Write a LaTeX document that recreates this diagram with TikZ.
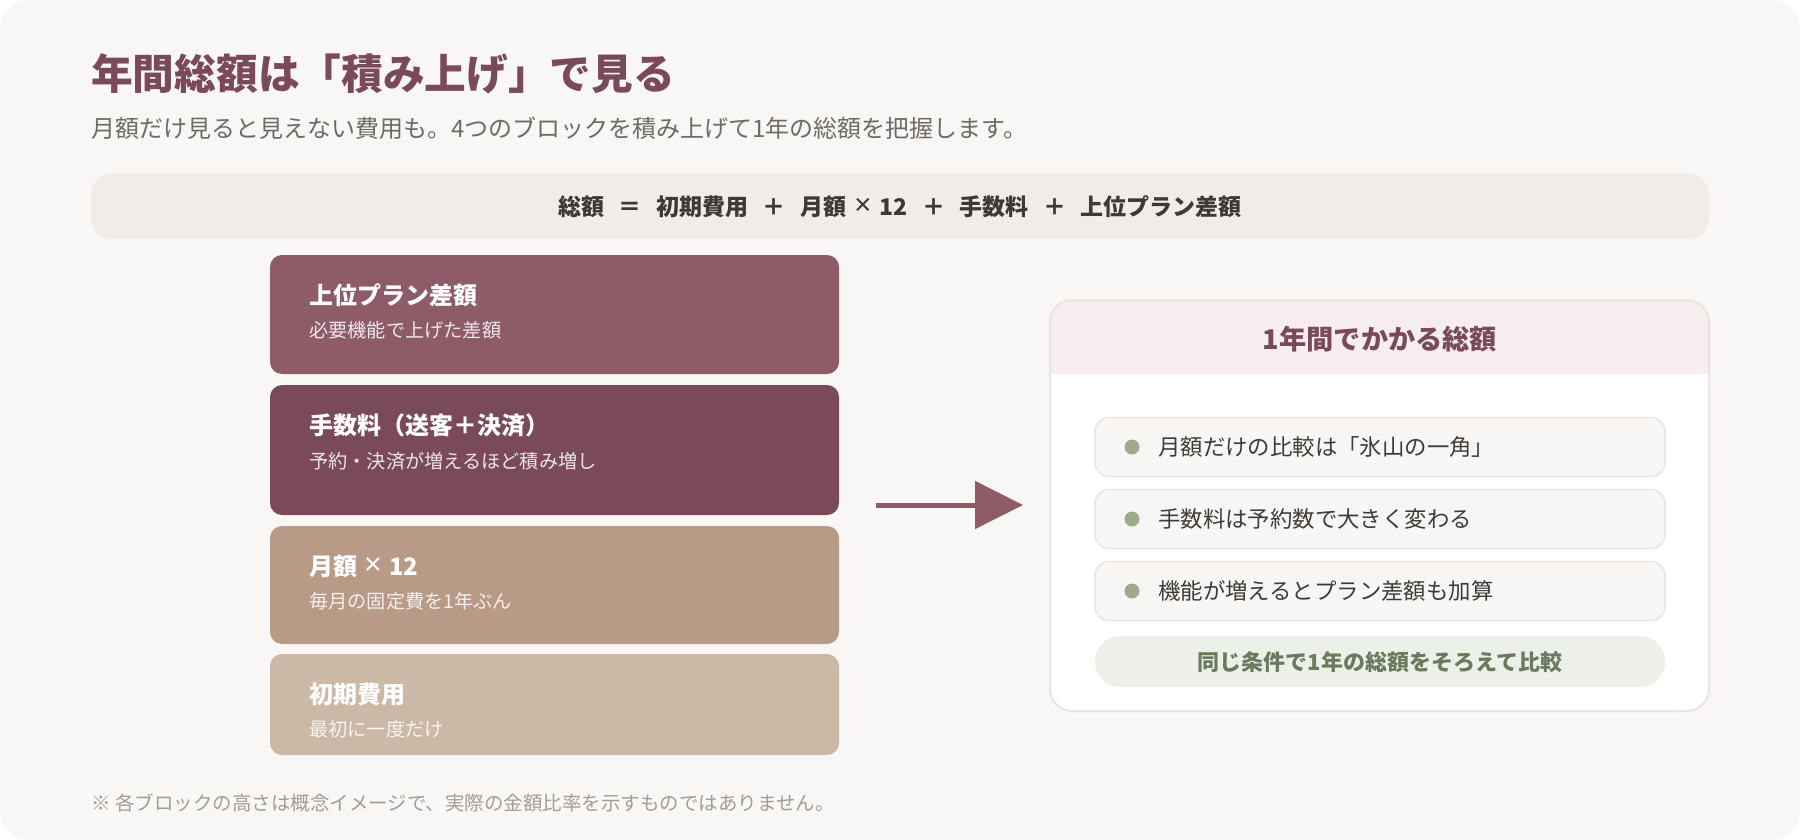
\documentclass[tikz,border=0pt]{standalone}
\usepackage{fontspec}
\setmainfont{Noto Sans CJK JP}
\newfontfamily\latinsans{Noto Sans}
\usetikzlibrary{arrows.meta}
\definecolor{cardbg}{HTML}{F8F7F5}
\definecolor{titlec}{HTML}{7B4A58}
\definecolor{subc}{HTML}{6E6A66}
\definecolor{formbg}{HTML}{F1ECE8}
\definecolor{formtx}{HTML}{3D3935}
\definecolor{bA}{HTML}{8E5B69}
\definecolor{bB}{HTML}{7B4A58}
\definecolor{bC}{HTML}{B89A86}
\definecolor{bD}{HTML}{CBB8A6}
\definecolor{cardline}{HTML}{EDE4DF}
\definecolor{hdrbg}{HTML}{F6EDEE}
\definecolor{itembg}{HTML}{F8F6F4}
\definecolor{itemline}{HTML}{ECE4DF}
\definecolor{dotc}{HTML}{9DAA8E}
\definecolor{itemtx}{HTML}{3E3B38}
\definecolor{pillbg}{HTML}{EDF0E9}
\definecolor{pilltx}{HTML}{6A7A5C}
\definecolor{notec}{HTML}{A39C96}
\newcommand{\opgap}[1]{\hspace{14.5pt}#1\hspace{14.5pt}}
\newcommand{\timesx}{{\latinsans\bfseries\fontsize{1.3em}{1em}\selectfont ×}}
\tikzset{
  blockbox/.style={rectangle, rounded corners=12pt, inner sep=0pt, minimum width=569pt},
  blktitle/.style={anchor=west, inner sep=0pt, text=white, font=\fontsize{24}{28}\selectfont\bfseries},
  blksub/.style={anchor=west, inner sep=0pt, text=white, text opacity=0.85, font=\fontsize{19.2}{23}\selectfont},
  itembox/.style={rectangle, rounded corners=14pt, draw=itemline, line width=1.5pt, fill=itembg, minimum width=570pt, minimum height=59pt, inner sep=0pt},
  itemtext/.style={anchor=west, inner sep=0pt, text=itemtx, font=\fontsize{22.4}{26}\selectfont},
  dotmark/.style={circle, fill=dotc, minimum size=15pt, inner sep=0pt},
}
\begin{document}
\begin{tikzpicture}[x=1pt,y=-1pt]
\useasboundingbox (0,0) rectangle (1800,840);
\fill[white] (0,0) rectangle (1800,840);
\fill[cardbg, rounded corners=28pt] (0,0) rectangle (1800,840);

% title and subtitle
\node[anchor=west, inner sep=0pt, text=titlec, font=\fontsize{41.7}{48}\selectfont\bfseries] (title) at (91,74) {年間総額は「積み上げ」で見る};
\node[anchor=west, inner sep=0pt, text=subc, font=\fontsize{24}{28}\selectfont] (subtitle) at (91,128) {月額だけ見ると見えない費用も。4つのブロックを積み上げて1年の総額を把握します。};

% formula bar
\node[rectangle, rounded corners=20pt, fill=formbg, minimum width=1618pt, minimum height=65pt, inner sep=0pt] (formula) at (900,206.5) {};
\node[inner sep=0pt, text=formtx, font=\fontsize{23}{27}\selectfont\bfseries] (formtext) at (900,207) {総額\opgap{＝}初期費用\opgap{＋}月額\hspace{8pt}\timesx\hspace{8pt}12\opgap{＋}手数料\opgap{＋}上位プラン差額};

% stacked blocks
\node[blockbox, fill=bA, minimum height=119pt] (blkA) at (554.5,314.5) {};
\node[blockbox, fill=bB, minimum height=130pt] (blkB) at (554.5,450) {};
\node[blockbox, fill=bC, minimum height=118pt] (blkC) at (554.5,585) {};
\node[blockbox, fill=bD, minimum height=101pt] (blkD) at (554.5,704.5) {};

\node[blktitle] (blkAt) at (309,295) {上位プラン差額};
\node[blksub] (blkAs) at (309,330) {必要機能で上げた差額};
\node[blktitle] (blkBt) at (309,425) {手数料（送客＋決済）};
\node[blksub] (blkBs) at (309,461) {予約・決済が増えるほど積み増し};
\node[blktitle] (blkCt) at (309,566) {月額\hspace{7pt}\timesx\hspace{7pt}12};
\node[blksub] (blkCs) at (309,601) {毎月の固定費を1年ぶん};
\node[blktitle] (blkDt) at (309,694) {初期費用};
\node[blksub] (blkDs) at (309,729) {最初に一度だけ};

% arrow
\coordinate (arrS) at (876,505);
\coordinate (arrE) at (1023,505);
\draw[bA, line width=5pt, -{Triangle[length=48pt,width=47pt]}] (arrS) -- (arrE);

% result card
\node[rectangle, rounded corners=22pt, fill=white, minimum width=659pt, minimum height=411pt, inner sep=0pt] (card) at (1379.5,505.5) {};
\begin{scope}
\clip[rounded corners=22pt] (1050,300) rectangle (1709,711);
\fill[hdrbg] (1050,300) rectangle (1709,374);
\end{scope}
\draw[cardline, line width=2pt, rounded corners=22pt] (1050,300) rectangle (1709,711);
\node[inner sep=0pt, text=titlec, font=\fontsize{27.2}{31}\selectfont\bfseries] (cardtitle) at (1380,339) {1年間でかかる総額};

\node[itembox] (item1) at (1380,447) {};
\node[itembox] (item2) at (1380,519) {};
\node[itembox] (item3) at (1380,591) {};
\node[dotmark] (dot1) at (1132,447) {};
\node[dotmark] (dot2) at (1132,519) {};
\node[dotmark] (dot3) at (1132,591) {};
\node[itemtext] (text1) at (1158,447) {月額だけの比較は「氷山の一角」};
\node[itemtext] (text2) at (1158,519) {手数料は予約数で大きく変わる};
\node[itemtext] (text3) at (1158,591) {機能が増えるとプラン差額も加算};

\node[rectangle, rounded corners=25pt, fill=pillbg, minimum width=570pt, minimum height=51pt, inner sep=0pt] (pill) at (1380,661.5) {};
\node[inner sep=0pt, text=pilltx, font=\fontsize{22}{26}\selectfont\bfseries] (pilltext) at (1380,662) {同じ条件で1年の総額をそろえて比較};

% footnote
\node[anchor=west, inner sep=0pt, text=notec, font=\fontsize{19.5}{23}\selectfont] (note) at (91,803) {※ 各ブロックの高さは概念イメージで、実際の金額比率を示すものではありません。};
\end{tikzpicture}
\end{document}
